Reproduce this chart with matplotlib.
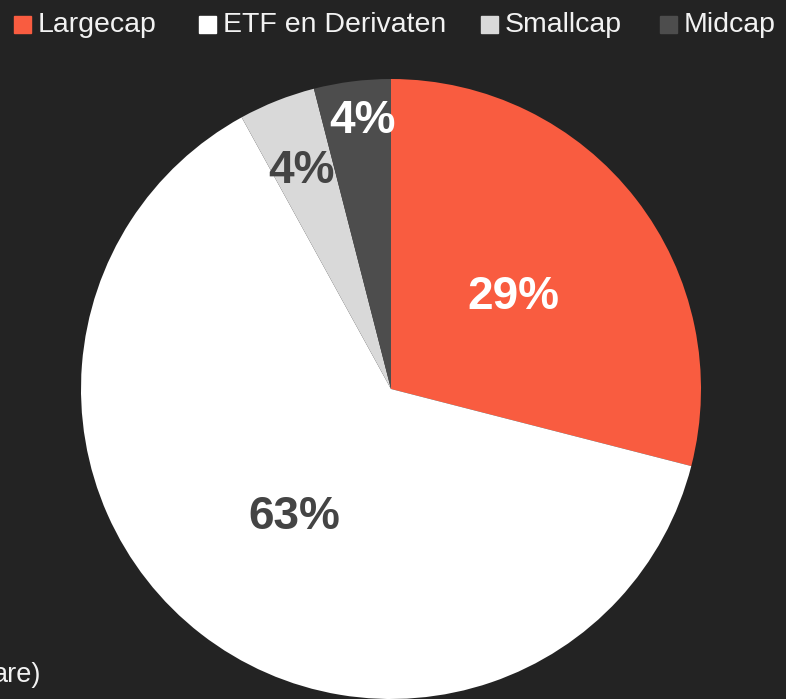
import matplotlib

matplotlib.use("Agg")
import matplotlib.pyplot as plt
import numpy as np
from matplotlib.patches import Rectangle

# data
categories = ["Largecap", "ETF en Derivaten", "Smallcap", "Midcap"]
shares = [29, 63, 4, 4]
pct_labels = ["29%", "63%", "4%", "4%"]

colors = ["#F95C40", "#FFFFFF", "#D9D9D9", "#4D4D4D"]
label_colors = ["#FFFFFF", "#444444", "#444444", "#FFFFFF"]
label_radius = [0.50, 0.51, 0.77, 0.88]
label_shift = [0.0, 0.0, 0.5, -1.3]   # small angular nudges, degrees
bg = "#232323"

W, H = 786, 699
fig = plt.figure(figsize=(W / 100, H / 100), dpi=100, facecolor=bg)
plt.rcParams["font.family"] = ["Liberation Sans", "DejaVu Sans"]

# pie axes: centre (391, 389) px, radius 310 px
cx, cy, r = 391, 389, 310
ax = fig.add_axes([(cx - r) / W, (H - cy - r) / H, 2 * r / W, 2 * r / H])
ax.set_facecolor(bg)
wedges, _ = ax.pie(shares, colors=colors, startangle=90, counterclock=False,
                   radius=1.0, wedgeprops=dict(linewidth=0))
ax.set_xlim(-1, 1)
ax.set_ylim(-1, 1)
ax.set_aspect("equal")
ax.axis("off")

for w, txt, col, rr, dd in zip(wedges, pct_labels, label_colors, label_radius, label_shift):
    ang = np.deg2rad((w.theta1 + w.theta2) / 2 + dd)
    ax.text(rr * np.cos(ang), rr * np.sin(ang) - 0.01, txt, ha="center", va="center",
            color=col, fontsize=33, fontweight="bold")

# legend drawn by hand along the top
legend_x = [14, 199, 481, 660]
sq = 17
for x0, name, col in zip(legend_x, categories, colors):
    fig.patches.append(Rectangle((x0 / W, 1 - 33 / H), sq / W, sq / H,
                                 transform=fig.transFigure, color=col, figure=fig))
    fig.text((x0 + sq + 7) / W, 1 - 24.5 / H, name, ha="left", va="center",
             color="#F2F2F2", fontsize=20.5)

# cut-off subtitle fragment at the bottom left
fig.text(41 / W, 1 - 675 / H, "are)", ha="right", va="center",
         color="#F2F2F2", fontsize=19.5)

fig.savefig("out.png", dpi=100, facecolor=bg)
